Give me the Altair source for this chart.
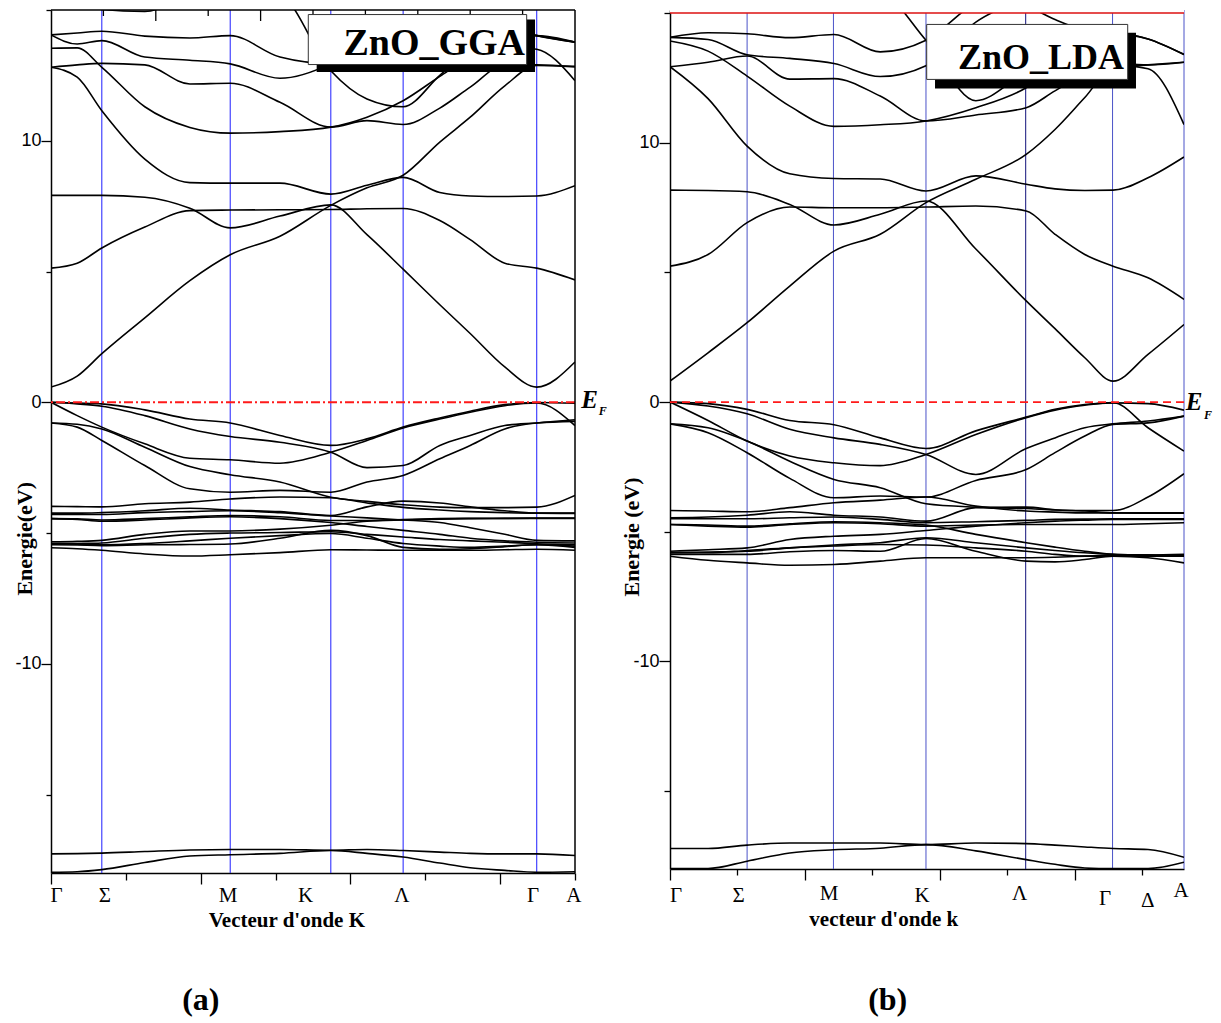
import altair as alt
import pandas as pd

# ======================= panel (a) : ZnO_GGA =======================
GGA_K = [0.0, 0.050, 0.097, 0.179, 0.265, 0.342, 0.437, 0.534, 0.603, 0.672, 0.742, 0.800, 0.866, 0.927, 1.0]

GGA_COND = [
    [0.58, 1.0, 1.86, 3.23, 4.65, 5.64, 6.35, 7.53, 8.2, 8.68, 9.95, 10.9, 12.1, 12.88, 12.85],
    [7.91, 7.91, 7.91, 7.84, 7.42, 6.67, 7.12, 7.55, 6.41, 5.09, 3.73, 2.63, 1.35, 0.58, 1.54],
    [5.13, 5.32, 5.9, 6.7, 7.33, 7.35, 7.36, 7.37, 7.4, 7.41, 6.95, 6.22, 5.32, 5.13, 4.68],
    [12.81, 12.43, 11.15, 9.3, 8.4, 8.38, 8.38, 7.96, 8.3, 8.6, 8.02, 7.89, 7.87, 7.89, 8.28],
    [13.54, 13.55, 12.81, 11.3, 10.51, 10.29, 10.35, 10.52, 10.9, 11.53, 12.46, 13.2, 13.7, 14.02, 13.77],
    [12.81, 12.9, 12.96, 12.9, 12.17, 12.2, 11.47, 10.52, 10.77, 10.62, 11.25, 12.05, 12.9, 12.9, 12.82],
    [14.05, 13.7, 13.83, 13.2, 13.08, 12.94, 12.39, 12.95, 13.8, 14.4, 14.8, 14.7, 14.3, 14.02, 13.77],
    [14.05, 14.12, 14.19, 14.0, 13.93, 14.02, 13.2, 12.95, 13.2, 13.5, 13.7, 13.7, 13.6, 13.5, 12.3],
    [16, 16, 16, 16, 16, 16, 15.6, 12.68, 11.6, 11.3, 12.5, 13.5, 14.2, 14.02, 13.77],
    [16, 15.8, 15.02, 14.94, 15.6, 16, 16, 16, 16, 16, 16, 16, 16, 16, 16],
]
GGA_VAL = [
    [0, -0.03, -0.06, -0.29, -0.64, -0.79, -1.27, -1.65, -1.40, -0.95, -0.60, -0.34, -0.09, -0.01, -0.04],
    [0, -0.06, -0.15, -0.51, -1.02, -1.31, -1.53, -1.91, -2.50, -2.42, -1.65, -1.27, -0.89, -0.79, -0.67],
    [0, -0.51, -0.95, -1.59, -2.14, -2.20, -2.33, -1.91, -1.46, -0.98, -0.64, -0.38, -0.13, -0.03, -0.89],
    [-0.79, -0.84, -1.02, -1.72, -2.46, -2.77, -3.05, -3.63, -3.79, -3.92, -4.01, -4.03, -4.03, -4.01, -3.56],
    [-0.79, -0.95, -1.46, -2.42, -3.31, -3.44, -3.37, -3.44, -3.05, -2.80, -2.16, -1.65, -1.02, -0.79, -0.73],
]
GGA_D = [
    [-3.98, -3.99, -4.00, -3.88, -3.82, -3.70, -3.62, -3.65, -3.85, -4.02, -4.12, -4.18, -4.22, -4.24, -4.24],
    [-4.24, -4.24, -4.22, -4.15, -4.05, -4.12, -4.18, -4.33, -4.00, -3.78, -3.85, -4.00, -4.15, -4.24, -4.25],
    [-4.29, -4.29, -4.29, -4.22, -4.18, -4.15, -4.22, -4.35, -4.42, -4.50, -4.60, -4.80, -5.05, -5.28, -5.30],
    [-4.45, -4.46, -4.50, -4.45, -4.38, -4.33, -4.38, -4.52, -4.52, -4.48, -4.45, -4.44, -4.44, -4.44, -4.44],
    [-4.45, -4.48, -4.55, -4.50, -4.42, -4.38, -4.45, -4.60, -4.75, -4.90, -5.05, -5.20, -5.30, -5.35, -5.38],
    [-5.34, -5.32, -5.28, -5.05, -4.92, -4.92, -4.85, -4.70, -4.55, -4.50, -4.47, -4.45, -4.44, -4.43, -4.43],
    [-5.41, -5.40, -5.38, -5.20, -5.05, -5.00, -4.98, -4.95, -5.05, -5.15, -5.25, -5.30, -5.35, -5.41, -5.45],
    [-5.45, -5.46, -5.48, -5.45, -5.44, -5.42, -5.20, -4.90, -5.10, -5.55, -5.62, -5.60, -5.52, -5.45, -5.55],
    [-5.56, -5.60, -5.66, -5.80, -5.88, -5.83, -5.75, -5.64, -5.65, -5.66, -5.66, -5.66, -5.64, -5.62, -5.66],
    [-5.41, -5.43, -5.45, -5.40, -5.30, -5.20, -5.10, -5.02, -5.20, -5.40, -5.50, -5.55, -5.50, -5.45, -5.50],
]
GGA_S = [
    [-17.27, -17.26, -17.24, -17.18, -17.12, -17.10, -17.10, -17.13, -17.10, -17.14, -17.20, -17.25, -17.27, -17.27, -17.33],
    [-17.97, -17.95, -17.87, -17.60, -17.35, -17.30, -17.25, -17.14, -17.25, -17.39, -17.62, -17.80, -17.90, -17.97, -17.95],
]
GGA_SYM_K = [0.097, 0.342, 0.534, 0.672, 0.927]
GGA_XTICKS = [0.0, 0.142857, 0.285714, 0.428571, 0.571429, 0.714286, 0.857143, 1.0]
GGA_TOPTICKS = [0.1, 0.2, 0.3, 0.4, 0.5, 0.6, 0.7, 0.8, 0.9]
GGA_LABELS = ["Γ", "Σ", "M", "K", "Λ", "Γ", "A"]
GGA_LABEL_K = [0.0105, 0.103, 0.338, 0.4857, 0.6698, 0.9198, 0.998]

# ======================= panel (b) : ZnO_LDA =======================
LDA_K = [0.0, 0.074, 0.150, 0.233, 0.319, 0.409, 0.498, 0.595, 0.693, 0.749, 0.807, 0.862, 0.930, 1.0]

LDA_COND = [
    [0.81, 1.9, 3.06, 4.47, 5.82, 6.47, 7.69, 8.59, 9.55, 10.51, 11.74, 12.9, 13.0, 13.1],
    [8.17, 8.16, 8.11, 7.62, 6.83, 7.24, 7.75, 5.9, 3.9, 2.83, 1.71, 0.81, 1.84, 2.99],
    [5.24, 5.69, 6.92, 7.52, 7.49, 7.49, 7.52, 7.56, 7.37, 6.47, 5.69, 5.24, 4.79, 3.96],
    [12.93, 11.7, 9.87, 8.8, 8.62, 8.6, 8.14, 8.72, 8.4, 8.22, 8.16, 8.17, 8.65, 9.45],
    [13.92, 13.53, 12.57, 11.41, 10.63, 10.69, 10.84, 11.35, 12.12, 12.9, 13.5, 14.25, 14.0, 13.4],
    [12.93, 13.1, 13.34, 12.45, 12.47, 11.8, 10.84, 11.07, 11.35, 12.0, 12.65, 13.0, 12.85, 10.7],
    [14.06, 13.98, 13.39, 13.25, 13.05, 12.55, 12.97, 14.65, 15.6, 16, 16, 16, 16, 16],
    [16, 16, 16, 16, 16, 15.8, 13.95, 11.62, 12.7, 13.1, 13.2, 13.1, 13.0, 13.1],
    [14.06, 14.24, 14.2, 14.05, 14.17, 13.5, 13.95, 15.4, 16, 16, 16, 16, 16, 16],
    [16, 16, 16, 16, 16, 16, 16, 16, 15.3, 14.75, 14.35, 14.25, 14.0, 13.4],
]
LDA_VAL = [
    [0, -0.06, -0.28, -0.71, -0.87, -1.38, -1.79, -1.11, -0.58, -0.28, -0.09, -0.03, -0.06, -0.31],
    [0, -0.15, -0.45, -1.05, -1.38, -1.63, -2.02, -2.79, -1.79, -1.38, -0.99, -0.84, -0.73, -0.54],
    [0, -0.71, -1.50, -2.08, -2.34, -2.45, -2.02, -1.25, -0.60, -0.31, -0.12, -0.02, -0.99, -1.89],
    [-0.84, -0.99, -1.50, -2.28, -2.98, -3.30, -3.92, -4.05, -4.10, -4.16, -4.18, -4.18, -3.66, -2.76],
    [-0.84, -1.18, -1.95, -2.94, -3.69, -3.62, -3.66, -3.02, -2.60, -1.95, -1.31, -0.86, -0.80, -0.54],
]
LDA_D = [
    [-4.18, -4.20, -4.23, -4.07, -3.88, -3.78, -3.66, -4.01, -4.20, -4.24, -4.27, -4.27, -4.27, -4.27],
    [-4.46, -4.43, -4.36, -4.23, -4.36, -4.43, -4.59, -4.07, -4.05, -4.15, -4.20, -4.27, -4.28, -4.28],
    [-4.50, -4.50, -4.50, -4.46, -4.43, -4.52, -4.65, -4.61, -4.56, -4.52, -4.51, -4.50, -4.50, -4.50],
    [-4.72, -4.78, -4.82, -4.72, -4.65, -4.69, -4.78, -4.74, -4.72, -4.72, -4.72, -4.72, -4.69, -4.65],
    [-4.72, -4.74, -4.78, -4.69, -4.61, -4.65, -4.74, -5.10, -5.42, -5.59, -5.75, -5.87, -5.90, -5.94],
    [-5.75, -5.69, -5.62, -5.30, -5.17, -5.10, -4.95, -4.78, -4.65, -4.59, -4.55, -4.52, -4.52, -4.52],
    [-5.81, -5.78, -5.75, -5.62, -5.51, -5.42, -5.23, -5.42, -5.62, -5.72, -5.81, -5.87, -5.90, -5.94],
    [-5.87, -5.87, -5.87, -5.77, -5.72, -5.75, -5.26, -5.75, -6.13, -6.16, -6.07, -5.94, -6.00, -6.20],
    [-5.94, -6.10, -6.20, -6.29, -6.26, -6.13, -6.00, -6.00, -6.00, -5.98, -5.94, -5.90, -5.90, -5.87],
    [-5.81, -5.81, -5.72, -5.62, -5.55, -5.49, -5.51, -5.62, -5.75, -5.87, -5.94, -5.94, -5.94, -5.94],
]
LDA_S = [
    [-17.21, -17.21, -17.08, -17.00, -17.00, -17.00, -17.06, -17.00, -17.02, -17.08, -17.15, -17.21, -17.25, -17.55],
    [-17.98, -17.98, -17.70, -17.38, -17.26, -17.20, -17.06, -17.30, -17.64, -17.82, -17.96, -17.98, -17.98, -17.74],
]
LDA_SYM_K = [0.150, 0.318, 0.498, 0.692, 0.861, 1.0]
LDA_SYM_COLOR = ["#4b52c8", "#4b52c8", "#4b52c8", "#10107a", "#4b52c8", "#4b52c8"]
LDA_XTICKS = [0.0, 0.1313, 0.2626, 0.3939, 0.5253, 0.6566, 0.7879, 0.9192]
LDA_LABELS = ["Γ", "Σ", "M", "K", "Λ", "Γ", "Δ", "A"]
LDA_LABEL_K = [0.0117, 0.1335, 0.3093, 0.4903, 0.680, 0.8463, 0.9296, 0.9942]
LDA_LABEL_E = [-19.26, -19.27, -19.20, -19.26, -19.20, -19.39, -19.46, -19.07]

SERIF = "Liberation Serif"
SANS = "Liberation Sans"


def band_frame(kgrid, groups):
    rows = []
    n = 0
    for g in groups:
        for band in g:
            for k, e in zip(kgrid, band):
                rows.append({"k": k, "E": e, "band": n})
            n += 1
    return pd.DataFrame(rows)


def make_panel(kgrid, groups, ytop, width, height, sym_k, sym_col, xticks, major_test,
               tick_major, tick_minor, ytick_major, ytick_minor,
               labels, label_k, label_e, ef_dash, top_color, box, box_text, box_font,
               ytitle, ytitle_pos, xtitle, xtitle_pos, tag, tag_pos, ef_pos, top_ticks, mask):
    xs = alt.Scale(domain=[0, 1], nice=False, zero=False)
    ys = alt.Scale(domain=[-18, ytop], nice=False, zero=False)
    xax = alt.Axis(values=xticks, labels=False, title=None, grid=False,
                   domainColor="black", domainWidth=1.5, tickColor="black", tickWidth=1.3,
                   tickSize={"condition": {"test": major_test, "value": tick_major}, "value": tick_minor})
    yax = alt.Axis(values=[-15, -10, -5, 0, 5, 10, 15], title=None, grid=False,
                   labelExpr="datum.value === 10 ? '10' : datum.value === 0 ? '0' : datum.value === -10 ? '-10' : ''",
                   labelFont=SANS, labelFontSize=18, labelColor="black", labelPadding=0,
                   labelOverlap=False,
                   tickSize={"condition": {"test": "datum.value % 10 === 0", "value": ytick_major},
                             "value": ytick_minor},
                   tickColor="black", tickWidth=1.3, domainColor="black", domainWidth=1.5)

    def X(f="k"):
        return alt.X(f"{f}:Q", scale=xs, axis=xax)

    def Y(f="E"):
        return alt.Y(f"{f}:Q", scale=ys, axis=yax)

    layers = []
    sym = pd.DataFrame({"k": sym_k, "col": sym_col})
    layers.append(alt.Chart(sym).mark_rule(strokeWidth=1).encode(
        x=X(), color=alt.Color("col:N", scale=None)))

    bands = band_frame(kgrid, groups)
    layers.append(alt.Chart(bands).mark_line(color="black", strokeWidth=1.6,
                                             interpolate="monotone", clip=True).encode(
        x=X(), y=Y(), detail="band:N"))

    if mask is not None:
        layers.append(alt.Chart(pd.DataFrame(mask)).mark_rect(fill="white").encode(
            x=X(), x2=alt.X2("k2:Q"), y=Y(), y2=alt.Y2("E2:Q")))

    layers.append(alt.Chart(pd.DataFrame({"E": [0]})).mark_rule(
        color="#ff1a1a", strokeWidth=1.8, strokeDash=ef_dash).encode(y=Y()))

    layers.append(alt.Chart(pd.DataFrame({"E": [15]})).mark_rule(
        color=top_color, strokeWidth=1.4).encode(y=Y()))

    if top_ticks is not None:
        layers.append(alt.Chart(pd.DataFrame({"k": [1]})).mark_rule(
            color="black", strokeWidth=1.5).encode(x=X()))
        tt = pd.DataFrame({"k": top_ticks, "E": [15] * len(top_ticks)})
        long_t = tt.iloc[1::2]
        short_t = tt.iloc[0::2]
        layers.append(alt.Chart(long_t).mark_rule(color="black", strokeWidth=1.3, y2Offset=11).encode(
            x=X(), y=Y(), y2=alt.Y2("E:Q")))
        layers.append(alt.Chart(short_t).mark_rule(color="black", strokeWidth=1.3, y2Offset=6).encode(
            x=X(), y=Y(), y2=alt.Y2("E:Q")))

    # title box with drop shadow
    shadow, white, tpos = box
    layers.append(alt.Chart(pd.DataFrame(shadow)).mark_rect(fill="black").encode(
        x=X(), x2=alt.X2("k2:Q"), y=Y(), y2=alt.Y2("E2:Q")))
    layers.append(alt.Chart(pd.DataFrame(white)).mark_rect(fill="white", stroke="#333333",
                                                            strokeWidth=1).encode(
        x=X(), x2=alt.X2("k2:Q"), y=Y(), y2=alt.Y2("E2:Q")))
    layers.append(alt.Chart(pd.DataFrame({"k": [tpos[0]], "E": [tpos[1]], "t": [box_text]})).mark_text(
        font=SERIF, fontWeight="bold", fontSize=box_font, align="right", baseline="alphabetic",
        color="black").encode(x=X(), y=Y(), text="t:N"))

    # k-point labels
    lab = pd.DataFrame({"k": label_k, "E": label_e, "t": labels})
    layers.append(alt.Chart(lab).mark_text(font=SERIF, fontSize=21, align="center",
                                           baseline="alphabetic", color="black").encode(
        x=X(), y=Y(), text="t:N"))

    # E_F label
    layers.append(alt.Chart(pd.DataFrame({"k": [ef_pos[0]], "E": [ef_pos[1]], "t": ["E"]})).mark_text(
        font=SERIF, fontWeight="bold", fontStyle="italic", fontSize=25, align="center",
        baseline="middle", color="black").encode(x=X(), y=Y(), text="t:N"))
    layers.append(alt.Chart(pd.DataFrame({"k": [ef_pos[2]], "E": [ef_pos[3]], "t": ["F"]})).mark_text(
        font=SERIF, fontWeight="bold", fontStyle="italic", fontSize=12, align="center",
        baseline="middle", color="black").encode(x=X(), y=Y(), text="t:N"))

    # axis titles and panel tag
    layers.append(alt.Chart(pd.DataFrame({"k": [ytitle_pos[0]], "E": [ytitle_pos[1]], "t": [ytitle]})).mark_text(
        font=SERIF, fontWeight="bold", fontSize=22, angle=270, align="center", baseline="middle",
        color="black").encode(x=X(), y=Y(), text="t:N"))
    layers.append(alt.Chart(pd.DataFrame({"k": [xtitle_pos[0]], "E": [xtitle_pos[1]], "t": [xtitle]})).mark_text(
        font=SERIF, fontWeight="bold", fontSize=21, align="center", baseline="alphabetic",
        color="black").encode(x=X(), y=Y(), text="t:N"))
    layers.append(alt.Chart(pd.DataFrame({"k": [tag_pos[0]], "E": [tag_pos[1]], "t": [tag]})).mark_text(
        font=SERIF, fontWeight="bold", fontSize=32, align="center", baseline="middle",
        color="black").encode(x=X(), y=Y(), text="t:N"))

    return alt.layer(*layers).properties(width=width, height=height)


panel_a = make_panel(
    GGA_K, [GGA_COND, GGA_VAL, GGA_D, GGA_S], 15, 524, 863,
    GGA_SYM_K, ["#1e1eff"] * len(GGA_SYM_K), GGA_XTICKS, "round(datum.value * 7) % 2 === 0",
    11, 7, 10, 5,
    GGA_LABELS, GGA_LABEL_K, [-19.11] * len(GGA_LABELS), [9, 3, 2, 3], "black",
    ({"k": [0.507], "k2": [0.9237], "E": [12.631], "E2": [14.635]},
     {"k": [0.491], "k2": [0.9078], "E": [12.914], "E2": [14.826]},
     (0.9046, 13.27)),
    "ZnO_GGA", 38,
    "Energie(eV)", (-0.0496, -5.22), "Vecteur d'onde K", (0.450, -20.06),
    "(a)", (0.286, -22.87), (1.028, 0.08, 1.053, -0.34), GGA_TOPTICKS, None)

panel_b = make_panel(
    LDA_K, [LDA_COND, LDA_VAL, LDA_D, LDA_S], 15.116, 514, 859,
    LDA_SYM_K, LDA_SYM_COLOR, LDA_XTICKS, "round(datum.value / 0.1313) % 2 === 0",
    11, 6, 11, 6,
    LDA_LABELS, LDA_LABEL_K, LDA_LABEL_E, [8, 5], "#dd1111",
    ({"k": [0.5156], "k2": [0.9066], "E": [12.09], "E2": [14.24]},
     {"k": [0.4994], "k2": [0.8905], "E": [12.44], "E2": [14.56]},
     (0.8833, 12.83)),
    "ZnO_LDA", 36,
    "Energie (eV)", (-0.0732, -5.2), "vecteur d'onde k", (0.416, -20.18),
    "(b)", (0.4235, -23.05), (1.0195, 0.02, 1.0467, -0.5), None,
    {"k": [0], "k2": [1], "E": [15.0], "E2": [15.2]})

chart = alt.hconcat(panel_a, panel_b, spacing=95, bounds="flush").properties(
    padding={"left": 14, "top": 1, "right": 0, "bottom": 0},
    background="white",
).configure_view(strokeWidth=0)

chart.save("out.html", embed_options={"renderer": "svg", "actions": False})
